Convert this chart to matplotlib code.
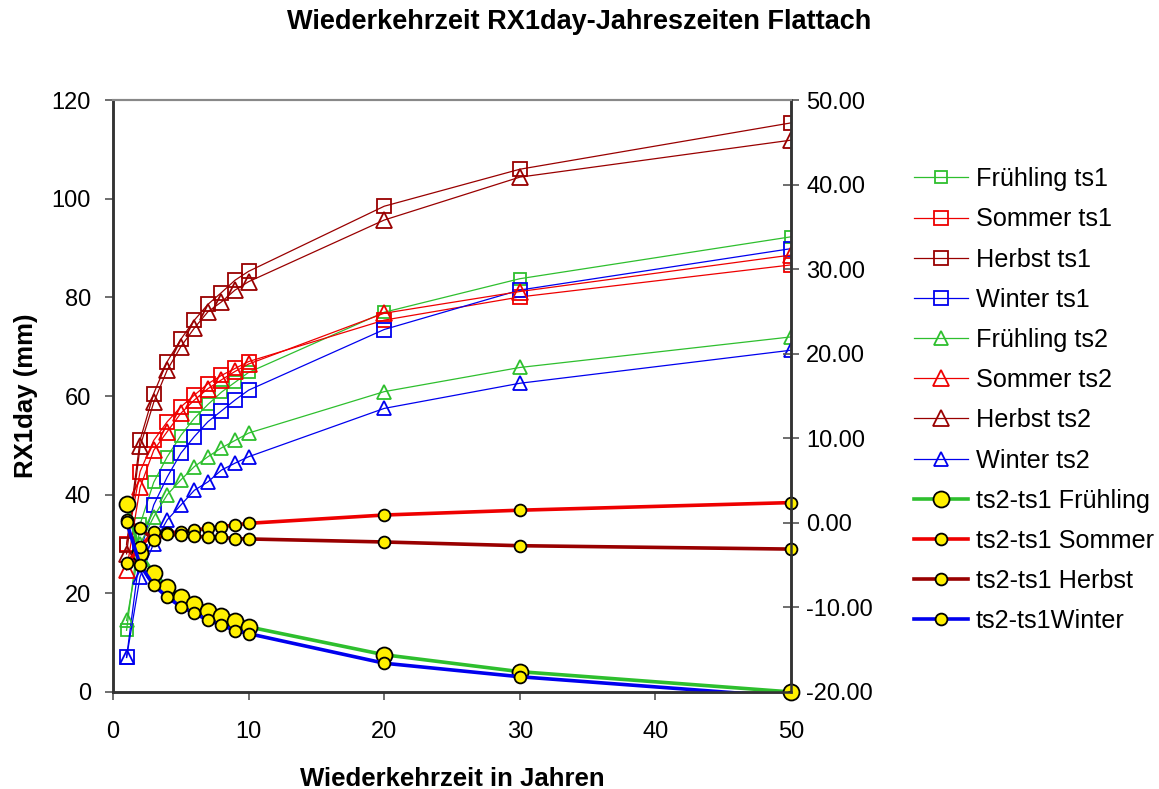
import numpy as np
import matplotlib
matplotlib.use("Agg")
import matplotlib.pyplot as plt

plt.rcParams['font.family'] = ['Liberation Sans', 'DejaVu Sans']

# -------------------------------
# Return periods (years)
jahre = [1, 2, 3, 4, 5, 6, 7, 8, 9, 10, 20, 30, 50]

# RX1day (mm), time slice 1
fruehling_ts1 = [12.5, 34.0, 42.5, 47.7, 52.0, 55.5, 58.3, 60.8, 62.8, 64.8, 77.0, 83.8, 92.3]
sommer_ts1 = [30.0, 44.7, 51.0, 54.8, 57.8, 60.2, 62.5, 64.2, 65.6, 67.0, 75.4, 80.1, 86.6]
herbst_ts1 = [29.8, 51.1, 60.5, 67.0, 71.5, 75.4, 78.6, 81.0, 83.5, 85.3, 98.5, 106.0, 115.4]
winter_ts1 = [7.0, 28.3, 37.9, 43.6, 48.4, 51.8, 54.8, 57.0, 59.2, 61.2, 73.5, 81.5, 89.9]

# RX1day (mm), time slice 2
fruehling_ts2 = [14.5, 30.0, 35.5, 40.0, 43.0, 45.7, 47.7, 49.5, 51.0, 52.5, 60.9, 65.8, 72.0]
sommer_ts2 = [24.7, 41.5, 49.0, 52.8, 56.5, 59.2, 61.5, 63.3, 65.0, 66.5, 76.8, 81.2, 88.6]
herbst_ts2 = [28.0, 49.8, 58.7, 65.3, 70.0, 73.8, 77.1, 79.1, 81.5, 83.2, 95.7, 104.4, 111.9]
winter_ts2 = [7.0, 23.4, 30.1, 34.9, 37.9, 40.9, 42.6, 45.0, 46.4, 47.7, 57.5, 62.6, 69.3]

# Differences ts2-ts1 (right axis)
diff_fruehling = [2.2, -3.6, -5.95, -7.55, -8.8, -9.6, -10.4, -11.0, -11.6, -12.3, -15.6, -17.6, -20.0]
diff_sommer = [-4.8, -2.9, -1.05, -1.2, -1.05, -0.85, -0.65, -0.45, -0.25, -0.05, 0.93, 1.5, 2.4]
diff_herbst = [0.3, -0.65, -2.0, -1.35, -1.45, -1.55, -1.7, -1.7, -1.87, -1.9, -2.26, -2.7, -3.1]
diff_winter = [0.1, -5.0, -7.35, -8.8, -9.9, -10.7, -11.5, -12.1, -12.75, -13.1, -16.6, -18.2, -20.6]

gruen = "#2EBF2E"
rot = "#EE0000"
dunkelrot = "#990000"
blau = "#0000EE"

# -------------------------------
fig = plt.figure(figsize=(11.59, 7.89), dpi=100)
ax = fig.add_axes([0.0975, 0.123, 0.585, 0.75])
ax2 = ax.twinx()

ts_series = [
    (fruehling_ts1, gruen, "s", 8, "Frühling ts1"),
    (sommer_ts1, rot, "s", 9.5, "Sommer ts1"),
    (herbst_ts1, dunkelrot, "s", 9.5, "Herbst ts1"),
    (winter_ts1, blau, "s", 9.5, "Winter ts1"),
    (fruehling_ts2, gruen, "^", 9.5, "Frühling ts2"),
    (sommer_ts2, rot, "^", 12, "Sommer ts2"),
    (herbst_ts2, dunkelrot, "^", 12, "Herbst ts2"),
    (winter_ts2, blau, "^", 9.5, "Winter ts2"),
]
for vals, col, mk, ms, lab in ts_series:
    ax.plot(jahre, vals, color=col, lw=0.9, marker=mk, ms=ms, mfc="none",
            mec=col, mew=1.3, label=lab)

# last flag: clip to the plot area or not
diff_series = [
    (diff_fruehling, gruen, 11.5, "ts2-ts1 Frühling", False),
    (diff_sommer, rot, 8.5, "ts2-ts1 Sommer", False),
    (diff_herbst, dunkelrot, 8.5, "ts2-ts1 Herbst", False),
    (diff_winter, blau, 8.5, "ts2-ts1Winter", True),
]
for vals, col, ms, lab, clip in diff_series:
    ax2.plot(jahre, vals, color=col, lw=2.6, marker="o", ms=ms, mfc="#FFF000",
             mec="black", mew=1.3, label=lab, clip_on=clip)

# -------------------------------
ax.set_xlim(0, 50)
ax.set_ylim(0, 120)
ax2.set_ylim(-20, 50)
ax.set_xticks(np.arange(0, 51, 10))
ax.set_yticks(np.arange(0, 121, 20))
ax2.set_yticks(np.arange(-20, 51, 10))
ax2.yaxis.set_major_formatter(matplotlib.ticker.FormatStrFormatter("%.2f"))

ax.tick_params(axis="both", labelsize=17, length=6, width=1.2, color="#555555")
ax.tick_params(axis="x", pad=15)
ax.tick_params(axis="y", pad=10)
ax2.tick_params(axis="y", labelsize=17, length=12, width=1.2, direction="inout",
                color="#555555", pad=5)

for a in (ax, ax2):
    for side in ("left", "bottom", "right"):
        a.spines[side].set_color("#333333")
        a.spines[side].set_linewidth(1.8)
    a.spines["top"].set_color("#888888")
    a.spines["top"].set_linewidth(1.5)

ax.set_xlabel("Wiederkehrzeit in Jahren", fontsize=18.5, fontweight="bold", labelpad=17)
ax.set_ylabel("RX1day (mm)", fontsize=18.5, fontweight="bold", labelpad=10)
fig.text(0.5, 0.988, "Wiederkehrzeit RX1day-Jahreszeiten Flattach", fontsize=19.5,
         fontweight="bold", ha="center", va="top")

h1, l1 = ax.get_legend_handles_labels()
h2, l2 = ax2.get_legend_handles_labels()
fig.legend(h1 + h2, l1 + l2, loc="upper left", bbox_to_anchor=(0.789, 0.788),
           frameon=False, fontsize=18.2, handlelength=2.1, handletextpad=0.32,
           labelspacing=0.64, borderpad=0, borderaxespad=0)

fig.savefig("out.png", dpi=100)
